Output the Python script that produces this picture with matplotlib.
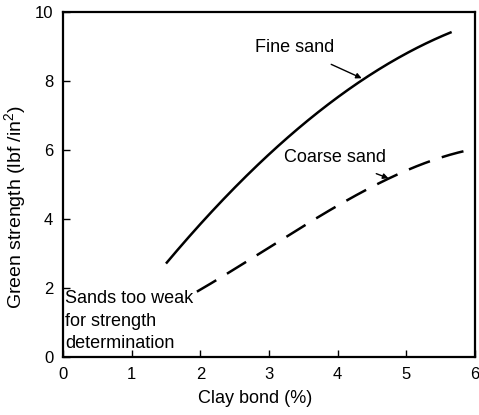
import matplotlib
matplotlib.use("Agg")
import matplotlib.pyplot as plt
import numpy as np

plt.rcParams["font.family"] = ["Liberation Sans", "DejaVu Sans"]
plt.rcParams["mathtext.fontset"] = "custom"
plt.rcParams["mathtext.rm"] = "Liberation Sans"

# curves
fine_x = [1.5, 2.0, 2.5, 3.0, 3.5, 4.0, 4.5, 5.0, 5.66]
fine_y = [2.7, 3.85, 4.95, 5.85, 6.75, 7.5, 8.2, 8.85, 9.4]
coarse_x = [1.95, 2.5, 3.0, 3.5, 4.0, 4.5, 5.0, 5.5, 6.0]
coarse_y = [1.9, 2.55, 3.15, 3.8, 4.4, 4.95, 5.4, 5.75, 6.05]
x_ticks = [0, 1, 2, 3, 4, 5, 6]
y_ticks = [0, 2, 4, 6, 8, 10]


def smooth(xs, ys, n=200):
    xs = np.asarray(xs)
    ys = np.asarray(ys)
    xx = np.linspace(xs[0], xs[-1], n)
    coef = np.polyfit(xs, ys, 3)
    return xx, np.polyval(coef, xx)


fig = plt.figure(figsize=(4.79, 4.15), dpi=100)
ax = fig.add_axes([63 / 479, 1 - 357 / 415, 412 / 479, 345 / 415])

fx, fy = smooth(fine_x, fine_y)
cx, cy = smooth(coarse_x, coarse_y)
ax.plot(fx, fy, color="black", lw=1.8, solid_capstyle="butt")
ax.plot(cx, cy, color="black", lw=1.8, linestyle=(0, (9, 5)))

ax.set_xlim(0, 6)
ax.set_ylim(0, 10)
ax.set_xticks(x_ticks)
ax.set_yticks(y_ticks)
ax.tick_params(direction="in", length=5, width=1, labelsize=12, pad=7)
for s in ax.spines.values():
    s.set_linewidth(1.6)

ax.set_xlabel("Clay bond (%)", fontsize=13)
ax.xaxis.set_label_coords(0.466, -0.097)
ax.set_ylabel("Green strength (lbf /in$^2$)", fontsize=14)
ax.yaxis.set_label_coords(-0.083, 0.435)

ax.annotate("Fine sand", xy=(4.35, 8.08), xytext=(3.38, 8.96),
            fontsize=13, ha="center", va="center",
            arrowprops=dict(arrowstyle="-|>", color="black", lw=1,
                            mutation_scale=8, shrinkA=9, shrinkB=0))
ax.annotate("Coarse sand", xy=(4.74, 5.18), xytext=(3.96, 5.77),
            fontsize=13, ha="center", va="center",
            arrowprops=dict(arrowstyle="-|>", color="black", lw=1,
                            mutation_scale=8, shrinkA=9, shrinkB=0))
ax.text(0.03, 1.93, "Sands too weak\nfor strength\ndetermination",
        fontsize=13, ha="left", va="top", linespacing=1.4)

fig.savefig("out.png", dpi=100)
